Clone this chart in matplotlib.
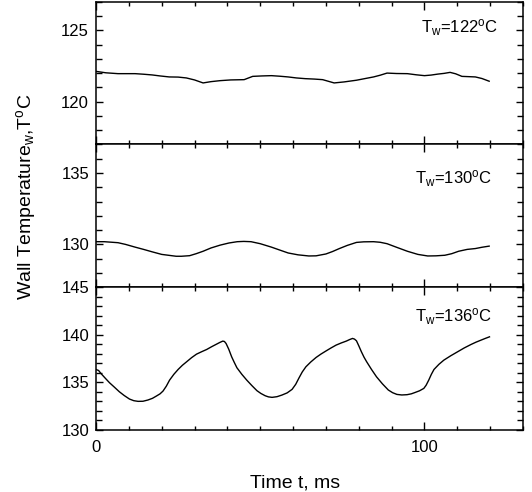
import matplotlib
matplotlib.use("Agg")
import matplotlib.pyplot as plt
from matplotlib.ticker import MultipleLocator, FixedLocator
from matplotlib.transforms import blended_transform_factory

plt.rcParams['font.family'] = ['Liberation Sans', 'DejaVu Sans']
plt.rcParams['mathtext.fontset'] = 'custom'
plt.rcParams['mathtext.rm'] = 'Liberation Sans'
plt.rcParams['mathtext.it'] = 'Liberation Sans'

# ---- data ----
t1 = [0, 3.0, 6.7, 11.9, 14.5, 17.1, 19.5, 22.3, 25.0, 27.5, 30.0, 32.6, 35.0, 37.8,
      41.0, 45.1, 47.7, 50.5, 53.4, 56.0, 58.5, 61.0, 63.7, 66.5, 69.0, 72.5, 75.5,
      79.3, 82.0, 84.5, 86.5, 88.6, 91.5, 94.8, 97.5, 100.0, 102.0, 104.1, 106.0,
      107.8, 109.5, 111.4, 113.5, 115.5, 117.5, 119.7]
T1 = [122.12, 122.02, 121.96, 121.96, 121.92, 121.87, 121.80, 121.73, 121.72, 121.66,
      121.52, 121.31, 121.40, 121.47, 121.52, 121.54, 121.77, 121.80, 121.82, 121.78,
      121.73, 121.66, 121.61, 121.58, 121.54, 121.31, 121.38, 121.50, 121.62, 121.73,
      121.85, 122.00, 121.97, 121.96, 121.88, 121.82, 121.86, 121.93, 121.98, 122.05,
      121.95, 121.77, 121.75, 121.73, 121.62, 121.43]

t2 = [0, 2.5, 6.7, 9.0, 11.9, 14.5, 17.1, 20.0, 24.4, 26.0, 28.5, 30.5, 32.6, 35.0,
      37.8, 40.5, 43.0, 45.0, 47.2, 50.0, 53.4, 56.0, 58.5, 61.5, 64.8, 67.0, 70.0,
      72.0, 74.1, 76.5, 79.3, 81.5, 84.5, 86.5, 88.6, 91.5, 94.8, 98.0, 101.0, 103.5,
      106.2, 108.3, 110.4, 113.0, 115.5, 117.5, 119.7]
T2 = [130.19, 130.19, 130.12, 130.00, 129.81, 129.65, 129.48, 129.30, 129.17, 129.17,
      129.21, 129.35, 129.52, 129.75, 129.95, 130.10, 130.19, 130.21, 130.19, 130.05,
      129.81, 129.60, 129.40, 129.27, 129.19, 129.20, 129.33, 129.50, 129.71, 129.93,
      130.14, 130.18, 130.19, 130.15, 130.05, 129.80, 129.52, 129.30, 129.19, 129.20,
      129.24, 129.35, 129.52, 129.65, 129.71, 129.80, 129.88]

t3 = [0, 0.8, 1.5, 2.8, 4.1, 5.6, 7.1, 8.6, 10.2, 11.5, 12.8, 14.3, 15.8, 17.2, 18.4,
      19.5, 20.4, 21.4, 22.4, 23.7, 25.0, 26.3, 27.6, 29.1, 30.6, 32.2, 33.7, 35.2,
      36.7, 37.7, 38.6, 39.1, 39.6, 40.4, 41.3, 42.1, 42.9, 44.4, 45.9, 47.5, 49.0,
      50.2, 51.5, 52.5, 53.6, 55.1, 56.6, 58.2, 59.7, 60.8, 61.8, 62.8, 63.9, 65.4,
      67.0, 68.5, 70.1, 71.6, 73.1, 74.7, 76.2, 77.2, 78.1, 78.7, 79.3, 80.0, 80.8,
      81.6, 82.4, 83.9, 85.4, 87.2, 89.0, 90.3, 91.6, 93.1, 94.7, 96.0, 97.2, 98.5,
      99.8, 100.5, 101.3, 102.1, 102.9, 104.4, 105.9, 108.0, 110.1, 112.1, 114.2,
      115.7, 117.2, 118.5, 119.8]
T3 = [136.36, 136.25, 135.94, 135.45, 134.97, 134.50, 134.02, 133.62, 133.25, 133.08,
      133.01, 133.02, 133.15, 133.33, 133.57, 133.80, 134.09, 134.60, 135.24, 135.85,
      136.36, 136.80, 137.17, 137.60, 137.97, 138.23, 138.46, 138.75, 139.02, 139.20,
      139.34, 139.30, 139.09, 138.50, 137.69, 137.10, 136.54, 135.85, 135.24, 134.65,
      134.13, 133.84, 133.60, 133.48, 133.43, 133.50, 133.67, 133.90, 134.27, 134.80,
      135.47, 136.10, 136.64, 137.15, 137.62, 137.98, 138.32, 138.63, 138.92, 139.15,
      139.34, 139.50, 139.62, 139.55, 139.37, 138.85, 138.22, 137.65, 137.17, 136.35,
      135.59, 134.85, 134.20, 133.92, 133.74, 133.68, 133.71, 133.80, 133.95, 134.12,
      134.37, 134.70, 135.24, 135.85, 136.36, 136.90, 137.34, 137.80, 138.22, 138.62,
      138.99, 139.23, 139.44, 139.62, 139.79]

labels = [r'T$_{\rm w}$=122$^{\rm o}$C', r'T$_{\rm w}$=130$^{\rm o}$C', r'T$_{\rm w}$=136$^{\rm o}$C']
ylims = [(117, 127), (127, 137), (130, 145)]
ymajors = [[120, 125], [130, 135], [130, 135, 140, 145]]
label_pos = [(122.3, 124.84), (120.7, 134.24), (120.7, 141.34)]
xlim = (0, 130)
xmajor = [0, 100]

fig = plt.figure(figsize=(5.32, 4.92), dpi=100)
L, W = 96/532, (523-96)/532
H = 142.77/492
bottoms = [1-(1.7+H*492)/492, 1-(1.7+2*H*492)/492, 1-430/492]

series = [(t1, T1), (t2, T2), (t3, T3)]
axes = []
for i in range(3):
    ax = fig.add_axes([L, bottoms[i], W, H])
    t, T = series[i]
    ax.plot(t, T, color='black', lw=1.0)
    ax.set_xlim(*xlim)
    ax.set_ylim(*ylims[i])
    ax.xaxis.set_major_locator(FixedLocator(xmajor))
    ax.xaxis.set_minor_locator(MultipleLocator(10))
    ax.yaxis.set_major_locator(FixedLocator(ymajors[i]))
    ax.yaxis.set_minor_locator(MultipleLocator(1))
    ax.tick_params(axis='both', which='both', direction='in', top=True, right=True,
                   width=1.0, colors='black')
    ax.tick_params(axis='x', which='major', length=5.5, pad=7, labelsize=12)
    ax.tick_params(axis='x', which='minor', length=3.0)
    ax.tick_params(axis='y', which='major', length=5, pad=5, labelsize=12)
    ax.tick_params(axis='y', which='minor', length=4.5)
    if i < 2:
        ax.tick_params(axis='x', labelbottom=False)
    for s in ax.spines.values():
        s.set_linewidth(1.1)
    ax.text(label_pos[i][0], label_pos[i][1], labels[i], ha='right', va='baseline',
            fontsize=12)
    axes.append(ax)

ax3 = axes[2]
tr = blended_transform_factory(ax3.transData, ax3.transAxes)
ax3.text(60.6, -0.40, 'Time t, ms', transform=tr, ha='center', va='baseline', fontsize=14)

fig.text(26/532, 1-197/492, r'Wall Temperature$_{\rm w}$,T$^{\rm o}$C', rotation=90,
         ha='center', va='center', fontsize=14)

fig.savefig('out.png', dpi=100)
